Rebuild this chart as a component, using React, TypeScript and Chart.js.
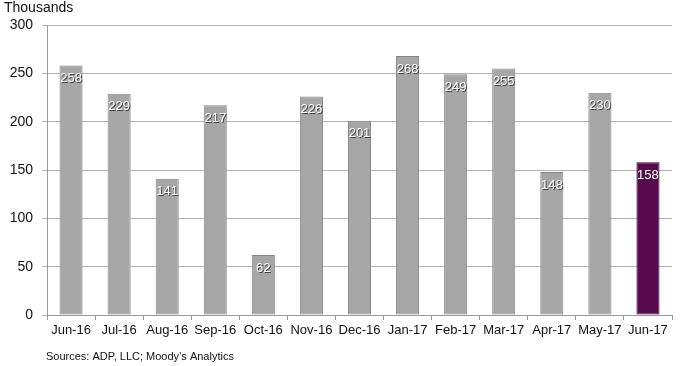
import React, { useEffect, useRef } from "react";
import { Chart, registerables } from "chart.js";

Chart.register(...registerables);

const categories = ["Jun-16", "Jul-16", "Aug-16", "Sep-16", "Oct-16", "Nov-16", "Dec-16", "Jan-17", "Feb-17", "Mar-17", "Apr-17", "May-17", "Jun-17"];
const values = [258, 229, 141, 217, 62, 226, 201, 268, 249, 255, 148, 230, 158];
const yTitle = "Thousands";
const sourceText = "Sources: ADP, LLC; Moody\u2019s Analytics";

const GRAY = "#a6a6a6";
const GRAY_EDGE = "#858585";
const PURPLE = "#580a4f";
const PURPLE_EDGE = "#3a0434";
const FONT = "Liberation Sans, Arial, sans-serif";

const overlayPlugin = {
  id: "overlay",
  afterDatasetsDraw(chart: any) {
    const ctx = chart.ctx;
    const meta = chart.getDatasetMeta(0);
    ctx.save();
    ctx.font = `13px ${FONT}`;
    ctx.textAlign = "center";
    ctx.textBaseline = "middle";
    meta.data.forEach((bar: any, i: number) => {
      const txt = String(values[i]);
      ctx.fillStyle = "rgba(40,40,40,0.8)";
      ctx.fillText(txt, bar.x + 1, bar.y + 14);
      ctx.fillStyle = "#ffffff";
      ctx.fillText(txt, bar.x, bar.y + 13);
    });
    ctx.restore();
  },
  afterDraw(chart: any) {
    const ctx = chart.ctx;
    ctx.save();
    ctx.fillStyle = "#111111";
    ctx.textBaseline = "middle";
    ctx.textAlign = "left";
    ctx.font = `14px ${FONT}`;
    ctx.fillText(yTitle, 4, 8);
    ctx.font = `11px ${FONT}`;
    ctx.fillText(sourceText, 46, 357);
    ctx.restore();
  },
};

export default function App() {
  const ref = useRef<HTMLCanvasElement>(null);
  useEffect(() => {
    if (!ref.current) return;
    const chart = new Chart(ref.current, {
      type: "bar",
      data: {
        labels: categories,
        datasets: [
          {
            data: values,
            backgroundColor: values.map((_, i) => (i === values.length - 1 ? PURPLE : GRAY)),
            borderColor: values.map((_, i) => (i === values.length - 1 ? PURPLE_EDGE : GRAY_EDGE)),
            borderWidth: 1,
            borderSkipped: false,
            barPercentage: 0.48,
            categoryPercentage: 1,
          },
        ],
      },
      options: {
        animation: false,
        responsive: false,
        maintainAspectRatio: false,
        layout: { padding: { left: 0, top: 25, right: 8, bottom: 26 } },
        plugins: { legend: { display: false }, tooltip: { enabled: false }, title: { display: false } },
        scales: {
          x: {
            afterFit: (s: any) => {
              s.height = 25;
            },
            grid: { drawOnChartArea: false, drawTicks: true, tickLength: 5, offset: true, color: "#9a9a9a" },
            border: { display: true, color: "#9a9a9a" },
            ticks: { color: "#111111", font: { family: FONT, size: 13 }, padding: 3, maxRotation: 0, autoSkip: false },
          },
          y: {
            min: 0,
            max: 300,
            afterFit: (s: any) => {
              s.width = 47;
            },
            grid: { color: "#b4b4b4", tickLength: 5, drawTicks: true },
            border: { display: true, color: "#9a9a9a" },
            ticks: { stepSize: 50, color: "#111111", font: { family: FONT, size: 14 }, padding: 9 },
          },
        },
      },
      plugins: [overlayPlugin],
    });
    return () => chart.destroy();
  }, []);
  return (
    <div style={{ position: "absolute", left: 0, top: 0, width: 680, height: 366, background: "#fff" }}>
      <canvas ref={ref} width={680} height={366} style={{ width: 680, height: 366 }} />
    </div>
  );
}
